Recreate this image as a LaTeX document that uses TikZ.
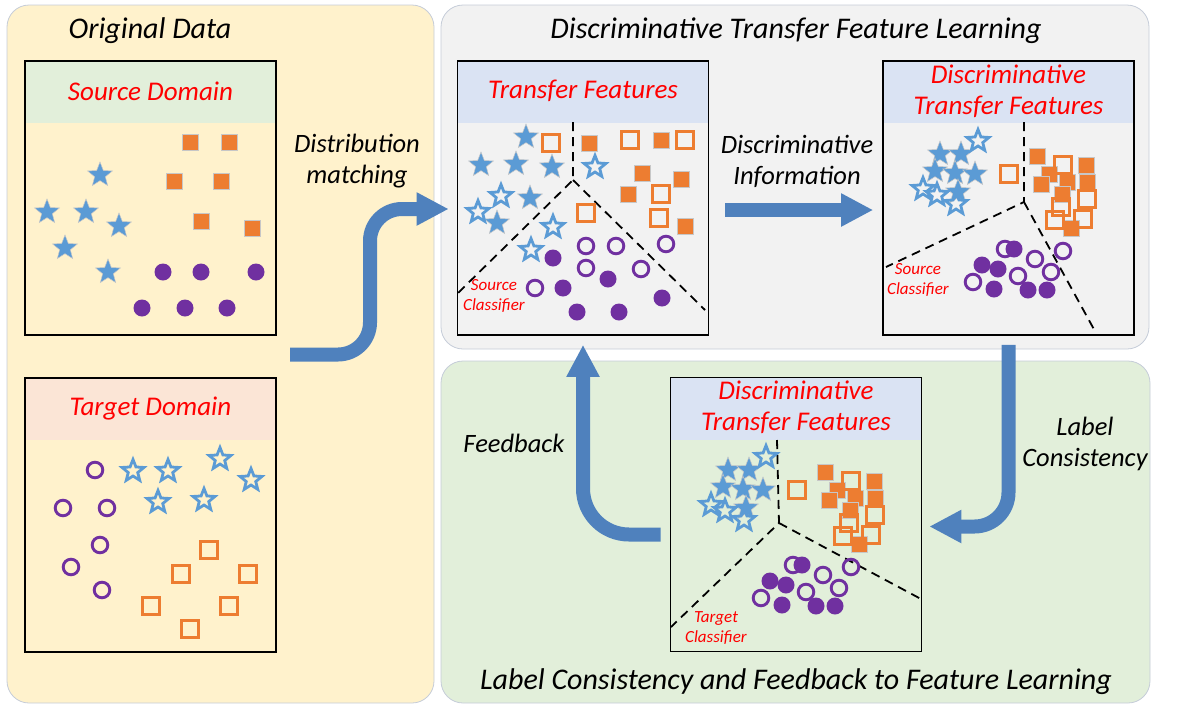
\documentclass[tikz,border=0pt]{standalone}
\usepackage{fontspec}
\setmainfont{Carlito}
\usetikzlibrary{arrows.meta,calc}

\definecolor{panelyellow}{HTML}{FFF2CC}
\definecolor{panelgray}{HTML}{F2F2F2}
\definecolor{panelgreen}{HTML}{E2EFDA}
\definecolor{panelline}{HTML}{C5CCD8}
\definecolor{hdrgreen}{HTML}{E2EFDA}
\definecolor{hdrpeach}{HTML}{FBE5D6}
\definecolor{hdrblue}{HTML}{DAE3F3}
\definecolor{starblue}{HTML}{5B9BD5}
\definecolor{sqorange}{HTML}{ED7D31}
\definecolor{dotpurple}{HTML}{7030A0}
\definecolor{arrowblue}{HTML}{4F81BD}

\def\fstar(#1,#2){\filldraw[fill=starblue, draw=black!22, line width=0.5pt] (#1,#2) +(-90:13) -- +(-54:5.6) -- +(-18:13) -- +(18:5.6) -- +(54:13) -- +(90:5.6) -- +(126:13) -- +(162:5.6) -- +(198:13) -- +(234:5.6) -- cycle;}
\def\ostar(#1,#2){\draw[starblue, line width=2.8pt] (#1,#2) +(-90:11.5) -- +(-54:5) -- +(-18:11.5) -- +(18:5) -- +(54:11.5) -- +(90:5) -- +(126:11.5) -- +(162:5) -- +(198:11.5) -- +(234:5) -- cycle;}
\def\fsq(#1,#2){\filldraw[fill=sqorange, draw=black!22, line width=0.5pt] (#1-8,#2-8) rectangle (#1+8,#2+8);}
\def\osq(#1,#2){\draw[sqorange, line width=3.2pt] (#1-8.5,#2-8.5) rectangle (#1+8.5,#2+8.5);}
\def\fdot(#1,#2){\fill[dotpurple] (#1,#2) circle (8.5pt);}
\def\odot(#1,#2){\draw[dotpurple, line width=2.9pt] (#1,#2) circle (7.8pt);}

% clustered points of the discriminative feature boxes
\newcommand\discluster{%
  \fstar(57,93) \fstar(78,93) \fstar(52,110) \fstar(72,112) \fstar(92,113) \fstar(75,131)
  \ostar(95,80) \ostar(40,128) \ostar(54,134) \ostar(73,143)
  \osq(126,113)
  \fsq(154,95) \fsq(166,113) \fsq(158,123) \fsq(203,104) \fsq(204,121) \fsq(184,121) \fsq(179,133) \fsq(188,167)
  \osq(180,104) \osq(204,138) \osq(178,146) \osq(172,159) \osq(200,158)
  \fdot(131,188) \fdot(99,204) \fdot(115,208) \fdot(111,228) \fdot(145,229) \fdot(164,229)
  \odot(122,188) \odot(152,198) \odot(180,190) \odot(135,215) \odot(168,211) \odot(90,221)
}

\begin{document}
\begin{tikzpicture}[x=1pt, y=-1pt,
  panel/.style={draw=panelline, line width=0.8pt, rounded corners=22pt},
  databox/.style={draw, line width=1.6pt, minimum width=251pt, minimum height=274pt, inner sep=0pt,
    path picture={\fill[#1] (path picture bounding box.north west) rectangle ([yshift=-62pt]path picture bounding box.north east);}},
  title/.style={font=\fontsize{30}{31}\selectfont\itshape, align=center},
  label/.style={font=\fontsize{26.5}{31}\selectfont\itshape, align=center},
  hdr/.style={font=\fontsize{27}{31}\selectfont\itshape, text=red, align=center},
  clf/.style={font=\fontsize{17}{20}\selectfont\itshape, text=red, align=center},
  bigarrow/.style={draw=arrowblue, line width=14pt, -{Triangle[length=32pt,width=31pt]}},
  classline/.style={line width=1.8pt, dash pattern=on 9pt off 6pt}]

  \useasboundingbox (0,0) rectangle (1178,716);

  %%%%% PANELS %%%%%
  \draw[panel, fill=panelyellow] (7,5) rectangle (434,703);
  \draw[panel, fill=panelgray] (441,5) rectangle (1149,349);
  \draw[panel, fill=panelgreen] (441,361) rectangle (1150,703);

  \node[title] (origtitle) at (150,31) {Original Data};
  \node[title] (dtfltitle) at (796,31) {Discriminative Transfer Feature Learning};
  \node[title] (lcfbtitle) at (796,682) {Label Consistency and Feedback to Feature Learning};

  %%%%% BOXES %%%%%
  \node[databox=hdrgreen] (src) at (150.5,198) {};
  \node[databox=hdrpeach] (tgt) at (150.5,515) {};
  \node[databox=hdrblue] (tf) at (583,198) {};
  \node[databox=hdrblue] (dtf) at (1008.5,198) {};
  \node[databox=hdrblue] (ltf) at (796,514.5) {};

  \node[hdr] (srchdr) at ([yshift=-31pt]src.north) {Source Domain};
  \node[hdr] (tgthdr) at ([yshift=-31pt]tgt.north) {Target Domain};
  \node[hdr] (tfhdr) at ([yshift=-31pt]tf.north) {Transfer Features};
  \node[hdr] (dtfhdr) at ([yshift=-31pt]dtf.north) {Discriminative\\Transfer Features};
  \node[hdr] (ltfhdr) at ([yshift=-31pt]ltf.north) {Discriminative\\Transfer Features};

  %%%%% SOURCE DOMAIN %%%%%
  \fstar(100,175) \fstar(47,212) \fstar(86,212) \fstar(119,226) \fstar(65,248) \fstar(108,272)
  \fsq(190,142) \fsq(229,142) \fsq(174,181) \fsq(221,181) \fsq(201,221) \fsq(252,228)
  \fdot(163,272) \fdot(201,272) \fdot(256,272) \fdot(142,308) \fdot(185,308) \fdot(227,308)

  %%%%% TARGET DOMAIN %%%%%
  \odot(95,470) \odot(63,508) \odot(107,508) \odot(100,545) \odot(71,567) \odot(102,590)
  \ostar(133,471) \ostar(168,471) \ostar(220,459) \ostar(251,480) \ostar(158,502) \ostar(204,500)
  \osq(209,550) \osq(181,574) \osq(248,574) \osq(151,606) \osq(229,606) \osq(190,629)

  %%%%% TRANSFER FEATURES %%%%%
  \draw[classline] (573,122) -- (573,180) -- (458,293);
  \draw[classline] (573,180) -- (705,310);
  \fstar(526,137) \fstar(481,165) \fstar(516,164) \fstar(552,167) \fstar(530,198) \fstar(497,223)
  \ostar(595,167) \ostar(501,196) \ostar(478,212) \ostar(553,227) \ostar(531,250)
  \osq(551,143) \osq(630,140) \osq(685,140) \osq(661,194) \osq(586,213) \osq(659,218)
  \fsq(589,143) \fsq(661,140) \fsq(642,173) \fsq(681,179) \fsq(628,194) \fsq(685,226)
  \odot(586,246) \odot(616,246) \odot(666,244) \odot(586,268) \odot(641,269) \odot(535,288)
  \fdot(553,258) \fdot(608,279) \fdot(563,288) \fdot(577,312) \fdot(619,312) \fdot(662,298)
  \node[clf] (srcclfa) at (494,296) {Source\\Classifier};

  %%%%% DISCRIMINATIVE FEATURES %%%%%
  \draw[classline] (1024,122) -- (1024,202) -- (886,267);
  \draw[classline] (1024,202) -- (1096,333);
  \begin{scope}[shift={(883,61)}]
    \discluster
  \end{scope}
  \node[clf] (srcclfb) at (918,280) {Source\\Classifier};

  \draw[classline] (777,440) -- (779,523) -- (671,627);
  \draw[classline] (779,523) -- (921,599);
  \begin{scope}[shift={(671,377)}]
    \discluster
  \end{scope}
  \node[clf] (tgtclf) at (716,628) {Target\\Classifier};

  %%%%% ARROWS %%%%%
  \coordinate (dmstart) at (290,354.5);
  \draw[bigarrow, rounded corners=32pt] (dmstart) -- ++(80,0) |- ([xshift=-8pt,yshift=-11pt]tf.west);
  \draw[bigarrow] ([xshift=16pt,yshift=-12pt]tf.east) -- ([xshift=-9pt,yshift=-12pt]dtf.west);
  \draw[bigarrow, rounded corners=34pt] ([yshift=-9pt]dtf.south) |- ([xshift=7pt,yshift=-12pt]ltf.east);
  \draw[bigarrow, rounded corners=46pt] ([xshift=-9pt,yshift=-20pt]ltf.west) -| ([yshift=-9pt]tf.south);

  \node[label] (dmlabel) at (357,161) {Distribution\\matching};
  \node[label] (dilabel) at (797,161) {Discriminative\\Information};
  \node[label] (fblabel) at (514,443) {Feedback};
  \node[label] (lclabel) at (1085,444) {Label\\Consistency};

\end{tikzpicture}
\end{document}
